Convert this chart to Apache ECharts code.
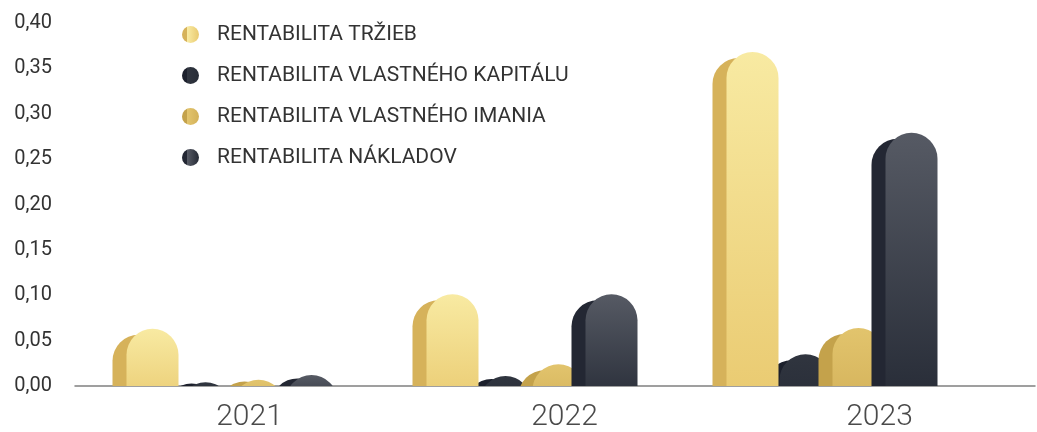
<!DOCTYPE html>
<html>
<head>
<meta charset="utf-8">
<script src="https://cdn.jsdelivr.net/npm/echarts@6/dist/echarts.min.js"></script>
<style>
  html, body { margin: 0; padding: 0; background: #fff; }
  #chart { width: 1037px; height: 432px; }
</style>
</head>
<body>
<div id="chart"></div>
<script>
const years = ['2021', '2022', '2023'];
const seriesNames = [
  'RENTABILITA TRŽIEB',
  'RENTABILITA VLASTNÉHO KAPITÁLU',
  'RENTABILITA VLASTNÉHO IMANIA',
  'RENTABILITA NÁKLADOV'
];
const trzieb = [0.063, 0.101, 0.368];
const kapitalu = [0.004, 0.011, 0.035];
const imania = [0.007, 0.024, 0.064];
const nakladov = [0.012, 0.101, 0.279];

// side = darker left face, front = [top, bottom] of the lit face
const palette = [
  { side: '#d6b25a', front: ['#f8eaa2', '#e9c96f'] },
  { side: '#1c202c', front: ['#30353f', '#272c37'] },
  { side: '#c4a24b', front: ['#e2c46d', '#d3b159'] },
  { side: '#232733', front: ['#565a64', '#252a35'] }
];
const zs = [3, 2, 3, 4];

const PILL = 52;     // width of one pill
const SHIFT = 14;    // how far the side face sticks out on the left
const DROP = 6;      // side face starts a bit lower than the front
const STEP = 53;     // distance between bars inside a year

const vgrad = (a, b) => ({
  type: 'linear', x: 0, y: 0, x2: 0, y2: 1,
  colorStops: [{ offset: 0, color: a }, { offset: 1, color: b }]
});
const legendColor = p => ({
  type: 'linear', x: 0, y: 0, x2: 1, y2: 0,
  colorStops: [
    { offset: 0, color: p.side }, { offset: 0.3, color: p.side },
    { offset: 0.32, color: p.front[0] }, { offset: 1, color: p.front[1] }
  ]
});

const makeRender = (idx) => (params, api) => {
  const cat = api.value(0);
  const val = api.value(1);
  const base = api.coord([cat, 0]);
  const top = api.coord([cat, val]);
  const h = base[1] - top[1];
  const full = PILL + SHIFT;
  const cx = base[0] + (idx - 1.5) * STEP;
  const x0 = cx - full / 2;
  const r = PILL / 2;
  const p = palette[idx];
  const pill = (x, dy, fill) => ({
    type: 'rect',
    shape: { x: x, y: top[1] + dy, width: PILL, height: h + r, r: [r, r, 0, 0] },
    style: { fill: fill }
  });
  return {
    type: 'group',
    clipPath: { type: 'rect', shape: { x: 0, y: 0, width: 1037, height: base[1] } },
    children: [
      pill(x0, Math.min(DROP, h * 0.3), p.side),
      pill(x0 + SHIFT, 0, vgrad(p.front[0], p.front[1]))
    ]
  };
};

const chart = echarts.init(document.getElementById('chart'));
const font = 'Roboto, "DejaVu Sans", sans-serif';

chart.setOption({
  animation: false,
  legend: {
    orient: 'vertical',
    left: 177,
    top: 19,
    itemWidth: 17,
    itemHeight: 17,
    itemGap: 20,
    icon: 'circle',
    textStyle: { color: '#333', fontSize: 21, lineHeight: 20, fontFamily: font, padding: [0, 0, 0, 13] },
    data: seriesNames
  },
  grid: [
    { left: 75, right: 62, top: 23, bottom: 46 },
    { left: 75, right: 2, top: 23, bottom: 46 },
    { left: 92, right: -21, top: 23, bottom: 46 }
  ],
  xAxis: [
    {
      type: 'category', gridIndex: 0, data: years,
      axisLine: { show: false }, axisTick: { show: false }, axisLabel: { show: false }
    },
    {
      type: 'category', gridIndex: 1, data: years,
      axisLine: { lineStyle: { color: '#808080', width: 1.5 } },
      axisTick: { show: false }, axisLabel: { show: false }
    },
    {
      type: 'category', gridIndex: 2, data: years,
      axisLine: { show: false }, axisTick: { show: false },
      axisLabel: { color: '#4a4a4a', fontSize: 30, fontWeight: 300, fontFamily: font, margin: 16 }
    }
  ],
  yAxis: [
    {
      type: 'value', gridIndex: 0, min: 0, max: 0.4, interval: 0.05,
      splitLine: { show: false },
      axisLabel: {
        color: '#333', fontSize: 20, fontFamily: font, margin: 23,
        formatter: v => v.toFixed(2).replace('.', ',')
      }
    },
    { type: 'value', gridIndex: 1, show: false, min: 0, max: 0.4 },
    { type: 'value', gridIndex: 2, show: false, min: 0, max: 0.4 }
  ],
  series: [trzieb, kapitalu, imania, nakladov].map((vals, i) => ({
    name: seriesNames[i],
    type: 'custom',
    xAxisIndex: 0,
    yAxisIndex: 0,
    z: zs[i],
    itemStyle: { color: legendColor(palette[i]) },
    encode: { x: 0, y: 1 },
    data: vals.map((v, k) => [k, v]),
    renderItem: makeRender(i)
  }))
});
</script>
</body>
</html>
